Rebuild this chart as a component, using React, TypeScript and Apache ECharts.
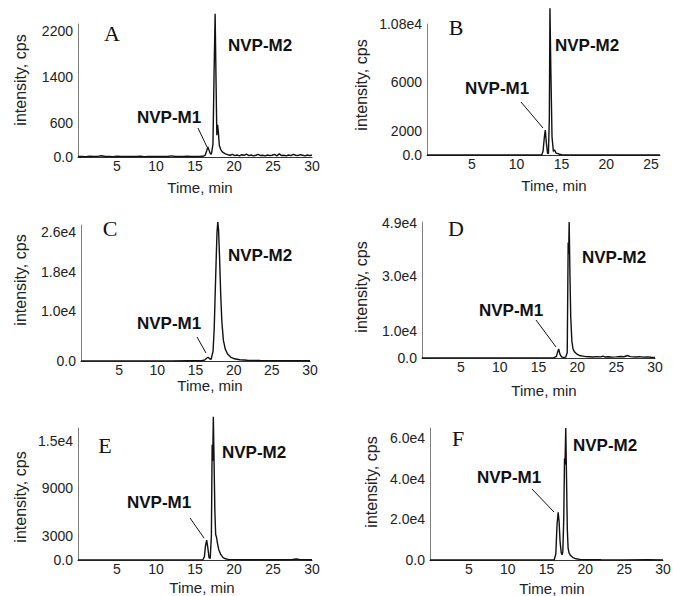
import React, { useEffect, useRef } from 'react';
import * as echarts from 'echarts';

// ---------- data (time in min, intensity in cps) ----------
const traceA: [number, number][] = [
  [0, 8], [0.5, 10], [1, 6], [1.5, 12], [2, 9], [2.5, 11], [3, 22], [3.5, 8], [4, 10], [4.5, 7], [5, 12],
  [5.5, 9], [6, 10], [6.5, 8], [7, 11], [7.5, 9], [8, 12], [8.5, 7], [9, 10], [9.5, 9], [10, 11],
  [10.5, 8], [11, 10], [11.5, 9], [12, 20], [12.5, 8], [13, 11], [13.5, 9], [14, 12], [14.5, 10], [15, 9],
  [15.5, 11], [16, 12], [16.3, 30], [16.5, 110], [16.65, 175], [16.8, 120], [16.95, 60], [17.1, 50],
  [17.3, 220], [17.45, 1500], [17.58, 2500], [17.7, 1300], [17.8, 380], [17.9, 560], [18.0, 420],
  [18.12, 200], [18.3, 130], [18.5, 90], [18.7, 70], [18.9, 55], [19.2, 40], [19.5, 30], [19.8, 45],
  [20.1, 25], [20.4, 35], [20.7, 20], [21, 40], [21.3, 30], [21.6, 50], [21.9, 25], [22.2, 35], [22.5, 20],
  [22.8, 30], [23.1, 45], [23.4, 25], [23.7, 30], [24, 20], [24.3, 35], [24.6, 25], [24.9, 30], [25.2, 45],
  [25.5, 20], [25.8, 55], [26.1, 25], [26.4, 30], [26.7, 20], [27, 35], [27.3, 25], [27.6, 45], [27.9, 30],
  [28.2, 25], [28.5, 40], [28.8, 30], [29.1, 20], [29.4, 35], [29.7, 25], [30, 30],
];

const traceB: [number, number][] = [
  [0, 0], [4, 0], [8, 0], [12, 0], [12.8, 0], [12.95, 300], [13.1, 1500], [13.2, 2050], [13.32, 1000],
  [13.45, 150], [13.55, 100], [13.65, 3000], [13.72, 12100], [13.82, 7000], [13.95, 1500], [14.1, 300],
  [14.25, 420], [14.4, 150], [14.6, 120], [14.8, 60], [15.1, 10], [15.5, 0], [20, 0], [26, 0],
];

const traceC: [number, number][] = [
  [0, 20], [3, 30], [6, 25], [9, 30], [12, 35], [14, 40], [15.8, 50], [16.2, 200], [16.45, 550],
  [16.65, 750], [16.85, 450], [17.05, 350], [17.3, 2000], [17.45, 6500], [17.55, 12000], [17.7, 20000],
  [17.82, 26000], [17.92, 28000], [18.02, 26500], [18.15, 21000], [18.3, 13500], [18.45, 8000],
  [18.65, 4200], [18.9, 2400], [19.2, 1400], [19.6, 800], [20.1, 450], [20.8, 250], [21.8, 150],
  [23.5, 100], [26, 80], [30, 60],
];

const traceD: [number, number][] = [
  [0, 20], [3, 40], [6, 30], [9, 50], [12, 40], [15, 60], [17.0, 100], [17.3, 600], [17.5, 2500],
  [17.6, 3300], [17.75, 1500], [17.95, 400], [18.2, 200], [18.5, 300], [18.7, 2000], [18.82, 42000],
  [18.88, 38000], [18.95, 49500], [19.05, 30000], [19.15, 15000], [19.3, 6000], [19.45, 3300],
  [19.6, 2400], [19.8, 1800], [20.0, 1300], [20.3, 900], [20.7, 700], [21.1, 500], [21.5, 450], [22, 350],
  [22.5, 500], [23, 400], [23.3, 650], [23.6, 350], [24, 450], [24.5, 300], [25, 400], [25.5, 550],
  [26, 450], [26.5, 900], [26.8, 500], [27.2, 400], [27.6, 350], [28, 500], [28.5, 300], [29, 400],
  [29.5, 250], [30, 200],
];

const traceE: [number, number][] = [
  [0, 10], [3, 15], [6, 10], [9, 20], [12, 15], [14, 20], [16.0, 30], [16.2, 400], [16.35, 1800],
  [16.5, 2500], [16.65, 1500], [16.8, 300], [16.95, 200], [17.1, 3000], [17.2, 14500], [17.27, 12500],
  [17.35, 18000], [17.45, 12000], [17.55, 6000], [17.65, 3200], [17.75, 2900], [17.9, 2000],
  [18.05, 1300], [18.3, 700], [18.6, 300], [18.9, 150], [19.3, 80], [20, 50], [22, 30], [24, 30],
  [26, 40], [27.5, 60], [28, 120], [28.5, 50], [30, 30],
];

const traceF: [number, number][] = [
  [0, 0], [4, 20], [8, 30], [12, 40], [16.0, 100], [16.2, 3000], [16.35, 17000], [16.5, 23500],
  [16.62, 19000], [16.75, 9000], [16.9, 3500], [17.0, 2600], [17.1, 4000], [17.22, 20000],
  [17.32, 50000], [17.38, 47000], [17.48, 65000], [17.58, 40000], [17.68, 15000], [17.78, 6000],
  [17.9, 3500], [18.1, 2200], [18.4, 1200], [18.8, 600], [19.3, 300], [20, 150], [22, 100], [25, 80],
  [28, 100], [30, 60],
];

const yTicksA = [0, 600, 1400, 2200];
const yLabelsA = ['0.0', '600', '1400', '2200'];
const yTicksB = [0, 2000, 6000, 10800];
const yLabelsB = ['0.0', '2000', '6000', '1.08e4'];
const yTicksC = [0, 10000, 18000, 26000];
const yLabelsC = ['0.0', '1.0e4', '1.8e4', '2.6e4'];
const yTicksD = [0, 10000, 30000, 49000];
const yLabelsD = ['0.0', '1.0e4', '3.0e4', '4.9e4'];
const yTicksE = [0, 3000, 9000, 15000];
const yLabelsE = ['0.0', '3000', '9000', '1.5e4'];
const yTicksF = [0, 20000, 40000, 60000];
const yLabelsF = ['0.0', '2.0e4', '4.0e4', '6.0e4'];

const xTicks30 = [5, 10, 15, 20, 25, 30];
const xTicks26 = [5, 10, 15, 20, 25];

const panelLetters = ['A', 'B', 'C', 'D', 'E', 'F'];
const peakNames = ['NVP-M1', 'NVP-M2'];
const xTitle = 'Time, min';
const yTitle = 'intensity, cps';

// ---------- layout ----------
const SANS = '"Liberation Sans", Arial, sans-serif';
const SERIF = '"Liberation Serif", "Times New Roman", serif';

const panels = [
  { trace: traceA, yTicks: yTicksA, yLabels: yLabelsA, yMax: 2320, xMax: 30, xTicks: xTicks30,
    box: [78, 24, 312, 157], letter: [112, 33], m2: [228, 45], m1: [137, 117], ptr: [198, 128, 207, 147],
    xt: [200, 187], yt: [20, 80] },
  { trace: traceB, yTicks: yTicksB, yLabels: yLabelsB, yMax: 10800, xMax: 26, xTicks: xTicks26,
    box: [427, 24, 660, 155], letter: [456, 27], m2: [555, 45], m1: [465, 88], ptr: [521, 102, 543, 128],
    xt: [554, 185], yt: [361, 85] },
  { trace: traceC, yTicks: yTicksC, yLabels: yLabelsC, yMax: 27400, xMax: 30, xTicks: xTicks30,
    box: [81, 225, 310, 361], letter: [110, 228], m2: [228, 255], m1: [137, 323], ptr: [197, 337, 206, 353],
    xt: [210, 385], yt: [20, 280] },
  { trace: traceD, yTicks: yTicksD, yLabels: yLabelsD, yMax: 49500, xMax: 30, xTicks: xTicks30,
    box: [422, 222, 655, 358], letter: [456, 228], m2: [582, 257], m1: [479, 310], ptr: [536, 320, 556, 347],
    xt: [544, 390], yt: [361, 287] },
  { trace: traceE, yTicks: yTicksE, yLabels: yLabelsE, yMax: 16600, xMax: 30, xTicks: xTicks30,
    box: [78, 428, 312, 560], letter: [105, 445], m2: [222, 452], m1: [127, 502], ptr: [190, 518, 204, 538],
    xt: [202, 587], yt: [20, 497] },
  { trace: traceF, yTicks: yTicksF, yLabels: yLabelsF, yMax: 65000, xMax: 30, xTicks: xTicks30,
    box: [430, 428, 663, 560], letter: [458, 438], m2: [573, 445], m1: [477, 477], ptr: [532, 489, 554, 512],
    xt: [552, 588], yt: [371, 482] },
];

function buildOption() {
  const grid: any[] = [];
  const xAxis: any[] = [];
  const yAxis: any[] = [];
  const series: any[] = [];
  const graphic: any[] = [];

  panels.forEach((p, i) => {
    const [l, t, r, b] = p.box;
    grid.push({ left: l, top: t, width: r - l, height: b - t, outerBoundsMode: 'none', containLabel: false });
    xAxis.push({
      type: 'value', gridIndex: i, min: 0, max: p.xMax,
      axisLine: { show: true, onZero: false, lineStyle: { color: '#333', width: 1 } },
      axisTick: { show: false },
      splitLine: { show: false },
      axisLabel: {
        customValues: p.xTicks, margin: 2, fontSize: 14, color: '#222', fontFamily: SANS,
        showMinLabel: true, showMaxLabel: true,
      },
    });
    const ticks = p.yTicks;
    const labels = p.yLabels;
    yAxis.push({
      type: 'value', gridIndex: i, min: 0, max: p.yMax,
      axisLine: { show: true, onZero: false, lineStyle: { color: '#808080', width: 1 } },
      axisTick: { show: false },
      splitLine: { show: false },
      axisLabel: {
        customValues: ticks, margin: 5, fontSize: 14, color: '#222', fontFamily: SANS,
        showMinLabel: true, showMaxLabel: true,
        formatter: (v: number) => {
          const k = ticks.indexOf(v);
          return k >= 0 ? labels[k] : '';
        },
      },
    });
    series.push({
      type: 'line', xAxisIndex: i, yAxisIndex: i, data: p.trace, showSymbol: false, symbol: 'none',
      clip: false, lineStyle: { color: '#111', width: 1.4 }, silent: true,
    });

    graphic.push(
      { type: 'text', x: p.letter[0], y: p.letter[1],
        style: { text: panelLetters[i], font: `22px ${SERIF}`, fill: '#111', textAlign: 'center', textVerticalAlign: 'middle' } },
      { type: 'text', x: p.m2[0], y: p.m2[1],
        style: { text: peakNames[1], font: `bold 17px ${SANS}`, fill: '#111', textAlign: 'left', textVerticalAlign: 'middle' } },
      { type: 'text', x: p.m1[0], y: p.m1[1],
        style: { text: peakNames[0], font: `bold 17px ${SANS}`, fill: '#111', textAlign: 'left', textVerticalAlign: 'middle' } },
      { type: 'line', shape: { x1: p.ptr[0], y1: p.ptr[1], x2: p.ptr[2], y2: p.ptr[3] },
        style: { stroke: '#111', lineWidth: 1 } },
      { type: 'text', x: p.xt[0], y: p.xt[1],
        style: { text: xTitle, font: `15px ${SANS}`, fill: '#222', textAlign: 'center', textVerticalAlign: 'middle' } },
      { type: 'text', x: p.yt[0], y: p.yt[1], rotation: Math.PI / 2,
        style: { text: yTitle, font: `16px ${SANS}`, fill: '#222', textAlign: 'center', textVerticalAlign: 'middle' } },
    );
  });

  return { animation: false, backgroundColor: '#fff', grid, xAxis, yAxis, series, graphic };
}

export default function App() {
  const ref = useRef<HTMLDivElement>(null);
  useEffect(() => {
    if (!ref.current) return;
    const chart = echarts.init(ref.current, undefined, { renderer: 'svg' });
    chart.setOption(buildOption());
    return () => chart.dispose();
  }, []);
  return <div ref={ref} style={{ position: 'absolute', left: 0, top: 0, width: 673, height: 596 }} />;
}
